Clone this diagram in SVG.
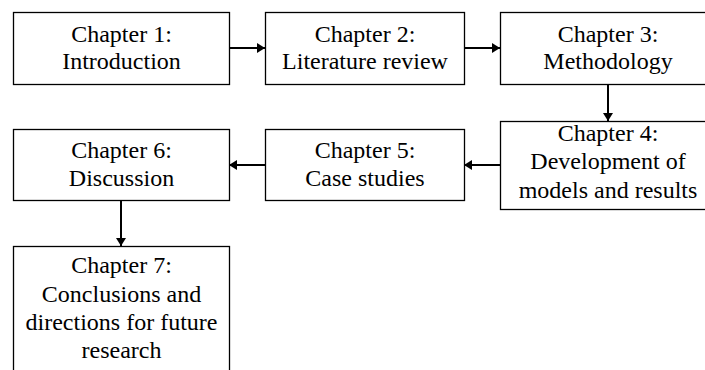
<svg xmlns="http://www.w3.org/2000/svg" width="705" height="370" viewBox="0 0 705 370">
<style>
.box{fill:#fff;stroke:#000;stroke-width:1.3}
.t{font-size:24px;fill:#000;text-anchor:middle}
.c{stroke:#000;stroke-width:2;fill:none}
</style>
<defs>
<marker id="ah" markerWidth="10" markerHeight="10" refX="8" refY="5" orient="auto" markerUnits="userSpaceOnUse">
<path d="M0,0 L8,5 L0,10 Z" fill="#000"/>
</marker>
</defs>
<rect width="705" height="370" fill="#fff"/>
<g id="connectors">
<line class="c" x1="229" y1="48" x2="265" y2="48" marker-end="url(#ah)"/>
<line class="c" x1="464" y1="48" x2="500" y2="48" marker-end="url(#ah)"/>
<line class="c" x1="608" y1="84" x2="608" y2="121" marker-end="url(#ah)"/>
<line class="c" x1="500" y1="165" x2="464" y2="165" marker-end="url(#ah)"/>
<line class="c" x1="265" y1="165" x2="229" y2="165" marker-end="url(#ah)"/>
<line class="c" x1="121" y1="201" x2="121" y2="246" marker-end="url(#ah)"/>
</g>
<g font-family="Liberation Serif, DejaVu Serif, serif">
<g id="ch1">
<rect class="box" x="13.5" y="12.5" width="216" height="72"/>
<text class="t" x="121.5" y="41.5">Chapter 1:</text>
<text class="t" x="121.5" y="69.3">Introduction</text>
</g>
<g id="ch2">
<rect class="box" x="265.5" y="12.5" width="199" height="72"/>
<text class="t" x="365" y="41.5">Chapter 2:</text>
<text class="t" x="365" y="69.3">Literature review</text>
</g>
<g id="ch3">
<rect class="box" x="500.5" y="12.5" width="215" height="72"/>
<text class="t" x="608" y="41.5">Chapter 3:</text>
<text class="t" x="608" y="69.3">Methodology</text>
</g>
<g id="ch4">
<rect class="box" x="500.5" y="121.5" width="215" height="88"/>
<text class="t" x="608" y="141">Chapter 4:</text>
<text class="t" x="608" y="169.3">Development of</text>
<text class="t" x="608" y="197.7">models and results</text>
</g>
<g id="ch5">
<rect class="box" x="265.5" y="129.5" width="199" height="71"/>
<text class="t" x="365" y="158">Chapter 5:</text>
<text class="t" x="365" y="186">Case studies</text>
</g>
<g id="ch6">
<rect class="box" x="13.5" y="129.5" width="216" height="71"/>
<text class="t" x="121.5" y="158">Chapter 6:</text>
<text class="t" x="121.5" y="186">Discussion</text>
</g>
<g id="ch7">
<rect class="box" x="13.5" y="246.5" width="216" height="140"/>
<text class="t" x="121.5" y="273.3">Chapter 7:</text>
<text class="t" x="121.5" y="301.7">Conclusions and</text>
<text class="t" x="121.5" y="330">directions for future</text>
<text class="t" x="121.5" y="358.3">research</text>
</g>
</g>
</svg>
